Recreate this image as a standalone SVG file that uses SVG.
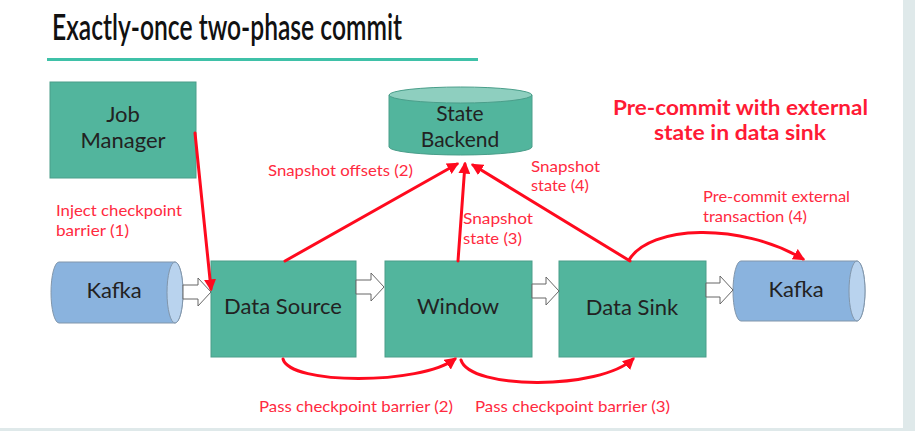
<svg xmlns="http://www.w3.org/2000/svg" width="915" height="431" viewBox="0 0 915 431">
<style>
.box{fill:#52b59d;stroke:#4a9e8a;stroke-width:1}
.kafka{fill:#8ab3de;stroke:#8196ab;stroke-width:1}
.kend{fill:#b9d3ee;stroke:#8196ab;stroke-width:1}
.nl{font-family:Lato,"Noto Sans",sans-serif;font-size:22px;fill:#222;text-anchor:middle}
.lbl{font-family:Lato,"Noto Sans",sans-serif;font-size:16px;fill:#ff2a40}
.note{font-family:Lato,"Noto Sans",sans-serif;font-size:20px;font-weight:bold;fill:#ff1a35}
.red{fill:none;stroke:#ff0a1e;stroke-width:3;stroke-linecap:round}
.hollow{fill:#fff;stroke:#666;stroke-width:1}
</style>
<defs>
<marker id="ah" viewBox="0 0 10 10" refX="8" refY="5" markerWidth="12" markerHeight="12" markerUnits="userSpaceOnUse" orient="auto">
<path d="M0,0 L10,5 L0,10 Z" fill="#ff0a1e"/>
</marker>
</defs>
<rect x="0" y="0" width="915" height="431" fill="#fff"/>
<rect x="903" y="0" width="12" height="431" fill="#dfe9ea"/>
<rect x="0" y="428" width="915" height="3" fill="#dfe9ea"/>
<g id="title">
<text x="52" y="40" font-family="Lato,'Noto Sans',sans-serif" font-size="37" font-weight="600" fill="#111" textLength="350" lengthAdjust="spacingAndGlyphs">Exactly-once two-phase commit</text>
<rect x="47" y="58" width="431" height="3" fill="#3fc1a8"/>
</g>
<g id="note">
<text class="note" x="613" y="115" textLength="255" lengthAdjust="spacingAndGlyphs">Pre-commit with external</text>
<text class="note" x="654" y="140" textLength="172" lengthAdjust="spacingAndGlyphs">state in data sink</text>
</g>
<g id="job-manager">
<rect class="box" x="50" y="82" width="146" height="96"/>
<text class="nl" x="123" y="122" font-size="21">Job</text>
<text class="nl" x="123" y="148" font-size="21">Manager</text>
</g>
<g id="state-backend">
<path d="M389,95 L389,147 A71.5,8 0 0 0 532,147 L532,95 Z" fill="#52b59d" stroke="#4a9e8a"/>
<ellipse cx="460.5" cy="95" rx="71.5" ry="8" fill="#8ecfbf" stroke="#4a9e8a"/>
<text class="nl" x="460" y="121" style="font-size:21px">State</text>
<text class="nl" x="460" y="147" style="font-size:21px">Backend</text>
</g>
<g id="kafka-in">
<path class="kafka" d="M59,262 L175,262 A8,30.5 0 0 1 175,323 L59,323 A8,30.5 0 0 1 59,262 Z"/>
<ellipse class="kend" cx="175" cy="292.5" rx="8" ry="30.5"/>
<text class="nl" x="114" y="298">Kafka</text>
</g>
<g id="data-source">
<rect class="box" x="211" y="261" width="145" height="96"/>
<text class="nl" x="283" y="314">Data Source</text>
</g>
<g id="window">
<rect class="box" x="385" y="261" width="147" height="96"/>
<text class="nl" x="458" y="314">Window</text>
</g>
<g id="data-sink">
<rect class="box" x="559" y="261" width="147" height="96"/>
<text class="nl" x="632" y="315">Data Sink</text>
</g>
<g id="kafka-out">
<path class="kafka" d="M741,261 L857,261 A8,30 0 0 1 857,321 L741,321 A8,30 0 0 1 741,261 Z"/>
<ellipse class="kend" cx="857" cy="291" rx="8" ry="30"/>
<text class="nl" x="796" y="297">Kafka</text>
</g>
<g id="connectors">
<path class="hollow" d="M183,285 L198,285 L198,278 L211,292 L198,306 L198,299 L183,299 Z"/>
<path class="hollow" d="M356,280 L371,280 L371,273 L384,287 L371,301 L371,294 L356,294 Z"/>
<path class="hollow" d="M532,284 L546,284 L546,277 L559,291 L546,305 L546,298 L532,298 Z"/>
<path class="hollow" d="M706,283 L720,283 L720,276 L733,290 L720,304 L720,297 L706,297 Z"/>
<path class="red" d="M195,133 L211,289" marker-end="url(#ah)"/>
<path class="red" d="M285,261 L457,164" marker-end="url(#ah)"/>
<path class="red" d="M458,261 L465,164" marker-end="url(#ah)"/>
<path class="red" d="M630,261 L473,165" marker-end="url(#ah)"/>
<path class="red" d="M629,260 C650,225 740,222 803,259" marker-end="url(#ah)"/>
<path class="red" d="M283,359 C290,385 420,385 455,359" marker-end="url(#ah)"/>
<path class="red" d="M461,360 C470,390 600,390 633,359" marker-end="url(#ah)"/>
</g>
<g id="labels">
<text class="lbl" x="56" y="216" textLength="126" lengthAdjust="spacingAndGlyphs">Inject checkpoint</text>
<text class="lbl" x="56" y="236" textLength="73" lengthAdjust="spacingAndGlyphs">barrier (1)</text>
<text class="lbl" x="268" y="176" textLength="145" lengthAdjust="spacingAndGlyphs">Snapshot offsets (2)</text>
<text class="lbl" x="463" y="224" textLength="70" lengthAdjust="spacingAndGlyphs">Snapshot</text>
<text class="lbl" x="463" y="244" textLength="59" lengthAdjust="spacingAndGlyphs">state (3)</text>
<text class="lbl" x="531" y="172" textLength="69" lengthAdjust="spacingAndGlyphs">Snapshot</text>
<text class="lbl" x="531" y="191" textLength="58" lengthAdjust="spacingAndGlyphs">state (4)</text>
<text class="lbl" x="703" y="202" textLength="147" lengthAdjust="spacingAndGlyphs">Pre-commit external</text>
<text class="lbl" x="703" y="222" textLength="104" lengthAdjust="spacingAndGlyphs">transaction (4)</text>
<text class="lbl" x="259" y="412" textLength="194" lengthAdjust="spacingAndGlyphs">Pass checkpoint barrier (2)</text>
<text class="lbl" x="475" y="412" textLength="195" lengthAdjust="spacingAndGlyphs">Pass checkpoint barrier (3)</text>
</g>
</svg>
